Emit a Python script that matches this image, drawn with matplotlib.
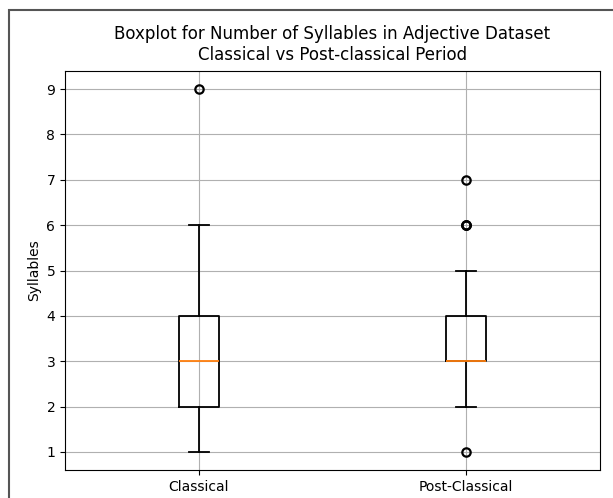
import matplotlib
matplotlib.use("Agg")
import matplotlib.pyplot as plt
from matplotlib.patches import Rectangle

# box statistics
labels = ["Classical", "Post-Classical"]
medians = [3, 3]
q1 = [2, 3]
q3 = [4, 4]
whislo = [1, 2]
whishi = [6, 5]
fliers = [[9], [1, 6, 6, 6, 7]]

stats = []
for i in range(len(labels)):
    stats.append({"label": labels[i], "med": medians[i], "q1": q1[i], "q3": q3[i],
                  "whislo": whislo[i], "whishi": whishi[i], "fliers": fliers[i]})

fig = plt.figure(figsize=(6.13, 4.98), dpi=100)
ax = fig.add_axes([65 / 613, 1 - 470 / 498, 535 / 613, 399 / 498])
lw = 1.3
ax.bxp(stats,
       boxprops=dict(linewidth=lw),
       whiskerprops=dict(linewidth=lw),
       capprops=dict(linewidth=lw),
       medianprops=dict(linewidth=lw, color="C1"),
       flierprops=dict(markeredgewidth=1.6))
ax.grid(True)
ax.set_ylabel("Syllables")
ax.set_title("Boxplot for Number of Syllables in Adjective Dataset\nClassical vs Post-classical Period",
             pad=8)

# frame of the screenshot (right and bottom are cut off)
fig.patches.append(Rectangle((8.5 / 613, -0.1), 1.0, 1.1 - 10.5 / 498, transform=fig.transFigure,
                             fill=False, edgecolor="#555555", lw=1.5, clip_on=False))

fig.savefig("out.png", dpi=100)
